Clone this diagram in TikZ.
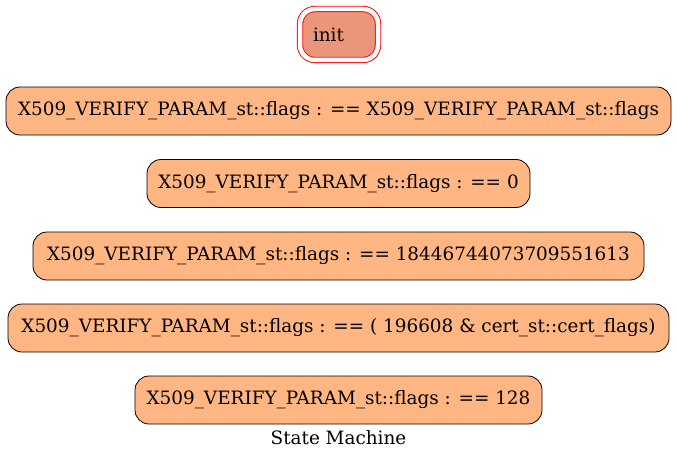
\documentclass[tikz,border=0pt]{standalone}
\usepackage{fontspec}
\setmainfont{DejaVu Serif}
\definecolor{statefill}{RGB}{255,182,130}
\definecolor{initfill}{RGB}{234,150,122}
\tikzset{
  state/.style={draw, line width=0.8pt, rounded corners=14pt, fill=statefill,
    minimum height=48pt, inner xsep=9pt, font=\fontsize{18.4}{21}\selectfont},
  initstate/.style={draw=red, line width=0.9pt, double=white, double distance=4.5pt,
    rounded corners=15pt, fill=initfill, minimum height=51pt, minimum width=78pt,
    text width=52pt, align=left, inner xsep=13pt, font=\fontsize{18.4}{21}\selectfont}
}
\begin{document}
\begin{tikzpicture}
		\useasboundingbox (0,0) rectangle (677pt,-460pt);
		\node (init) at (339pt,-34.5pt)[initstate]{init} ;
		\node (flagsself) at (338.5pt,-111pt)[state, minimum width=665pt]{X509\_VERIFY\_PARAM\_st::flags : == X509\_VERIFY\_PARAM\_st::flags} ;
		\node (flagszero) at (338.5pt,-183.5pt)[state, minimum width=383pt]{X509\_VERIFY\_PARAM\_st::flags : == 0} ;
		\node (flagsmax) at (338.5pt,-256pt)[state, minimum width=611pt]{X509\_VERIFY\_PARAM\_st::flags : == 18446744073709551613} ;
		\node (flagscert) at (338.5pt,-328pt)[state, minimum width=661pt]{X509\_VERIFY\_PARAM\_st::flags : == ( 196608 \& cert\_st::cert\_flags)} ;
		\node (flagsbit) at (338.5pt,-400pt)[state, minimum width=407pt]{X509\_VERIFY\_PARAM\_st::flags : == 128} ;
		\node (caption) at (338.5pt,-438pt)[font=\fontsize{18.4}{21}\selectfont]{State Machine} ;
	\end{tikzpicture}
\end{document}
